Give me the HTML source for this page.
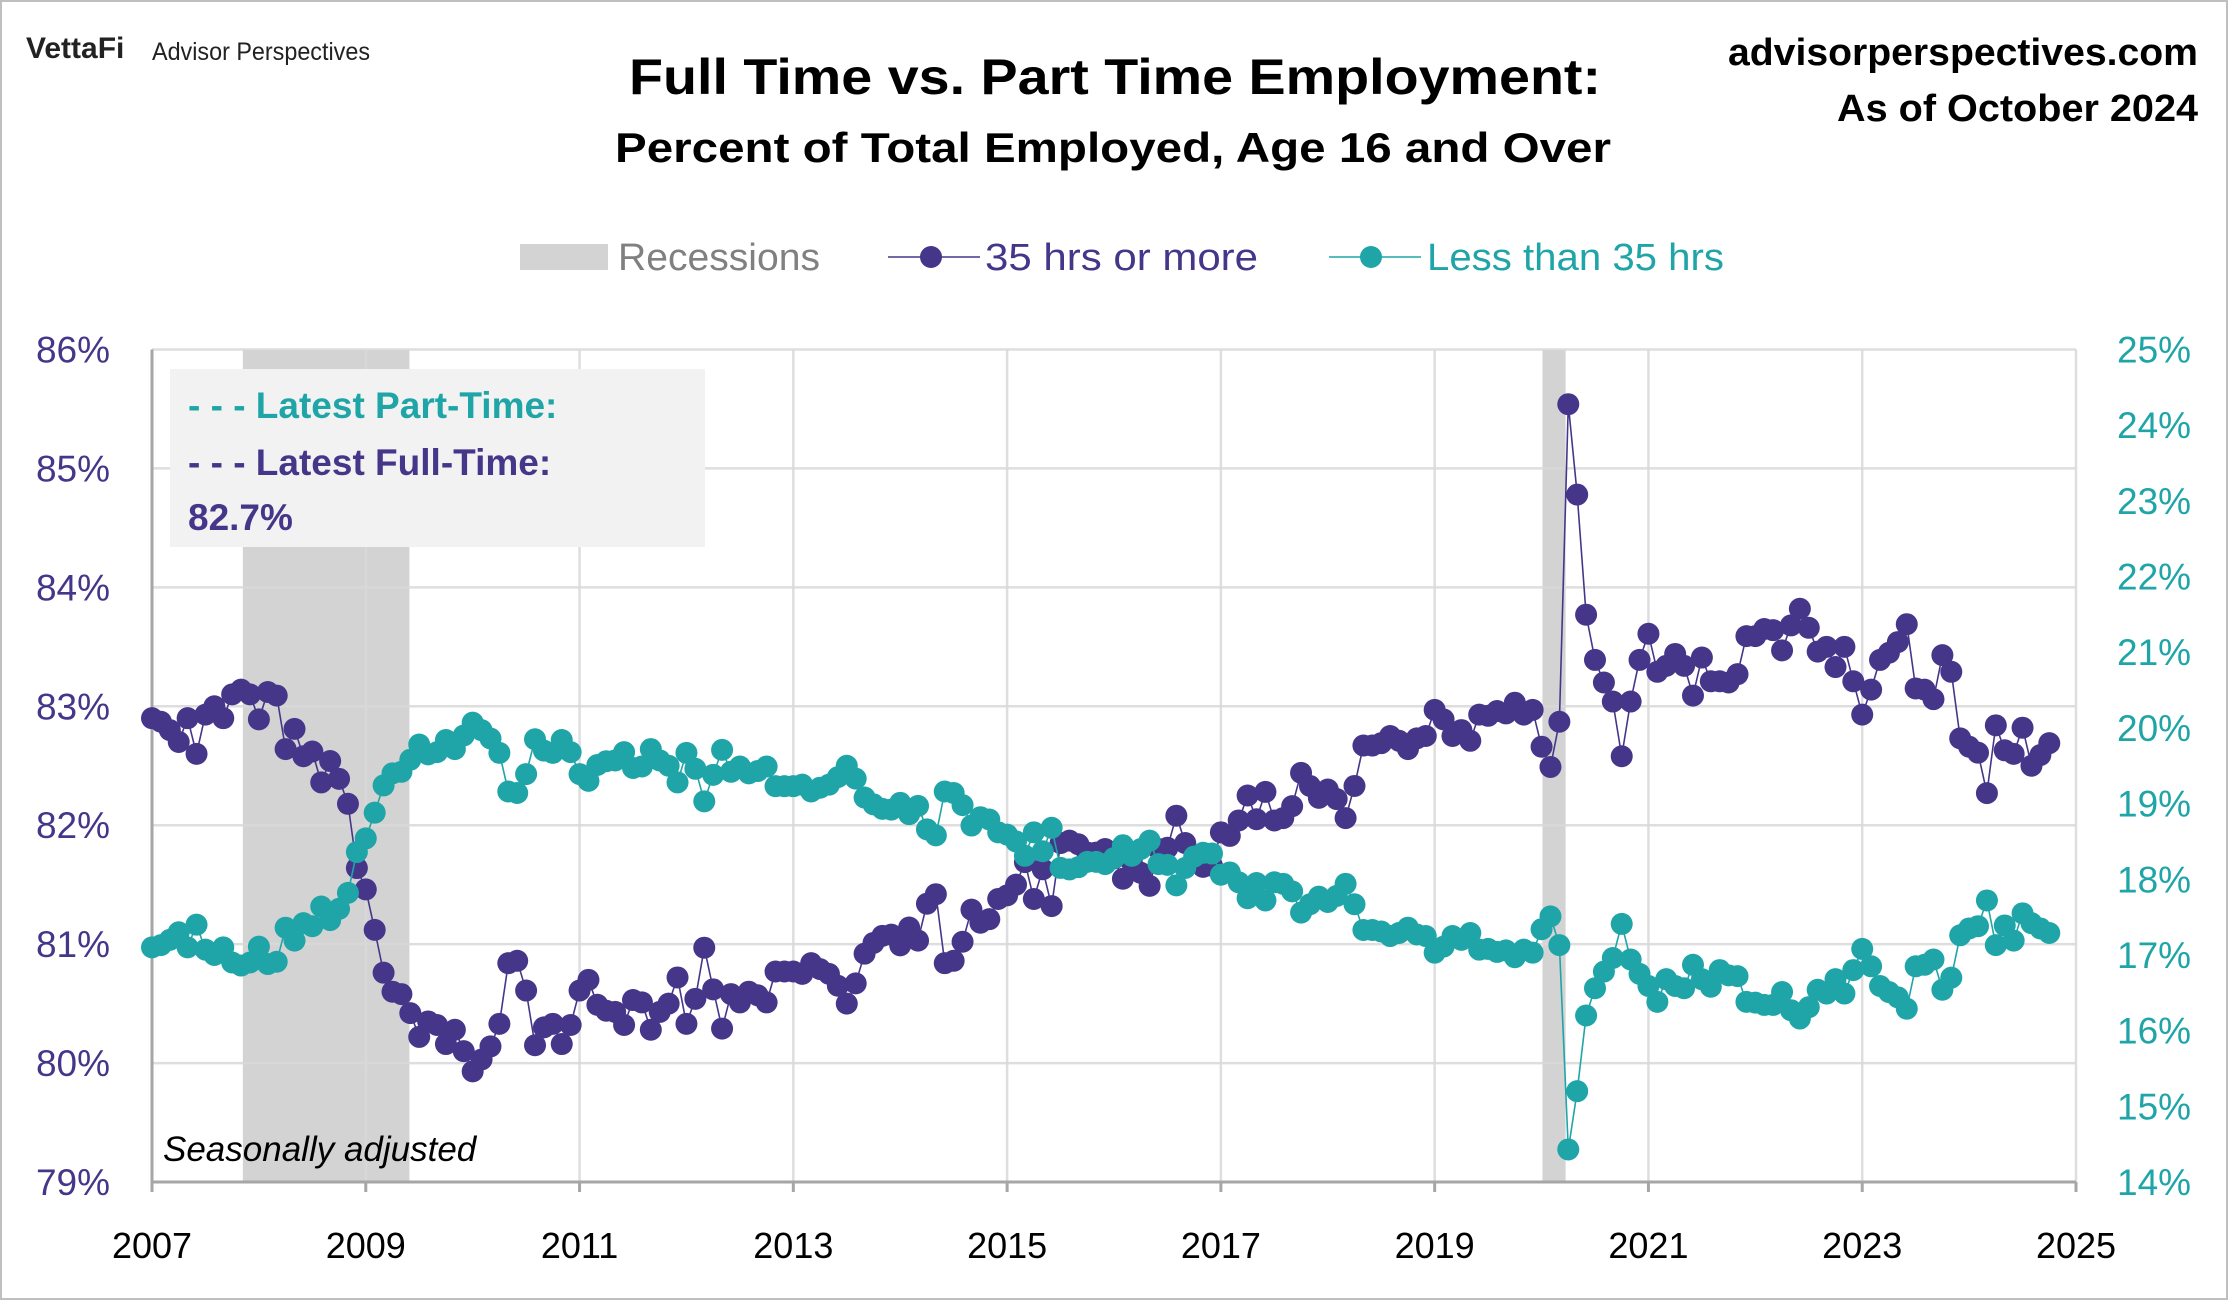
<!DOCTYPE html>
<html><head><meta charset="utf-8"><style>
html,body{margin:0;padding:0;background:#fff}
svg{display:block;font-family:"Liberation Sans",sans-serif}
</style></head><body>
<svg id="chart" width="2228" height="1300" viewBox="0 0 2228 1300" xmlns="http://www.w3.org/2000/svg">
<rect x="1" y="1" width="2226" height="1298" fill="#fff" stroke="#bfbfbf" stroke-width="2"/>
<text x="26" y="58" font-size="30" font-weight="bold" fill="#222">VettaFi</text>
<text x="152" y="60" font-size="25" fill="#222" textLength="218" lengthAdjust="spacingAndGlyphs">Advisor Perspectives</text>
<text x="1115" y="94" font-size="50" font-weight="bold" text-anchor="middle" fill="#000" textLength="972" lengthAdjust="spacingAndGlyphs">Full Time vs. Part Time Employment:</text>
<text x="1113" y="162" font-size="42" font-weight="bold" text-anchor="middle" fill="#000" textLength="996" lengthAdjust="spacingAndGlyphs">Percent of Total Employed, Age 16 and Over</text>
<text x="2198" y="65" font-size="38" font-weight="bold" text-anchor="end" fill="#000" textLength="470" lengthAdjust="spacingAndGlyphs">advisorperspectives.com</text>
<text x="2198" y="121" font-size="38" font-weight="bold" text-anchor="end" fill="#000" textLength="361" lengthAdjust="spacingAndGlyphs">As of October 2024</text>
<g>
 <g><rect x="520" y="244" width="88" height="26" fill="#d3d3d3"/><text x="618" y="270" font-size="38" fill="#808080" textLength="202" lengthAdjust="spacingAndGlyphs">Recessions</text></g>
 <g><line x1="888" y1="257" x2="980" y2="257" stroke="#46368a" stroke-width="1.5"/><circle cx="931" cy="257" r="11" fill="#46368a"/><text x="985" y="270" font-size="38" fill="#46368a" textLength="273" lengthAdjust="spacingAndGlyphs">35 hrs or more</text></g>
 <g><line x1="1329" y1="257" x2="1421" y2="257" stroke="#1fa5a8" stroke-width="1.5"/><circle cx="1371" cy="257" r="11" fill="#1fa5a8"/><text x="1427" y="270" font-size="38" fill="#1fa5a8" textLength="297" lengthAdjust="spacingAndGlyphs">Less than 35 hrs</text></g>
</g>
<g id="recessions"></g>
<g id="grid"></g>
<g id="axes"></g>
<g>
 <rect x="170" y="369" width="535" height="178" fill="#f2f2f2"/>
 <text x="188" y="418" font-size="37" font-weight="bold" fill="#1fa5a8">- - - Latest Part-Time:</text>
 <text x="188" y="475" font-size="37" font-weight="bold" fill="#46368a">- - - Latest Full-Time:</text>
 <text x="188" y="530" font-size="37" font-weight="bold" fill="#46368a">82.7%</text>
</g>
<text x="163" y="1161" font-size="35" font-style="italic" fill="#000">Seasonally adjusted</text>
<g id="series"></g>
</svg>
<script>
const fullTime = [
82.9,82.87,82.8,82.7,82.9,82.6,82.93,83.0,82.9,83.1,83.14,83.1,
82.89,83.12,83.09,82.64,82.81,82.58,82.62,82.36,82.54,82.39,82.18,81.64,
81.46,81.12,80.76,80.6,80.58,80.42,80.22,80.35,80.32,80.16,80.28,80.1,
79.93,80.03,80.14,80.33,80.84,80.86,80.61,80.15,80.3,80.33,80.16,80.32,
80.61,80.7,80.49,80.44,80.43,80.32,80.53,80.51,80.28,80.43,80.5,80.72,
80.33,80.54,80.97,80.62,80.29,80.58,80.51,80.6,80.57,80.51,80.77,80.77,
80.77,80.75,80.84,80.79,80.75,80.65,80.5,80.67,80.92,81.01,81.07,81.08,
80.99,81.14,81.03,81.34,81.42,80.84,80.86,81.02,81.29,81.18,81.21,81.38,
81.41,81.5,81.69,81.38,81.63,81.32,81.85,81.87,81.84,81.77,81.77,81.8,
81.72,81.55,81.69,81.6,81.49,81.8,81.81,82.08,81.85,81.7,81.65,81.66,
81.94,81.91,82.04,82.25,82.05,82.28,82.04,82.06,82.16,82.44,82.33,82.23,
82.3,82.22,82.06,82.33,82.67,82.67,82.69,82.75,82.71,82.64,82.73,82.75,
82.97,82.89,82.75,82.8,82.71,82.93,82.92,82.96,82.94,83.03,82.93,82.97,
82.66,82.49,82.87,85.54,84.78,83.77,83.39,83.2,83.04,82.58,83.04,83.39,
83.61,83.29,83.34,83.44,83.34,83.09,83.41,83.21,83.21,83.2,83.27,83.59,
83.59,83.65,83.64,83.47,83.68,83.82,83.66,83.46,83.5,83.33,83.5,83.21,
82.93,83.14,83.39,83.45,83.54,83.69,83.15,83.14,83.06,83.43,83.29,82.73,
82.66,82.61,82.27,82.84,82.63,82.6,82.82,82.5,82.59,82.69];
const partTime = [
17.1,17.13,17.2,17.3,17.1,17.4,17.07,17.0,17.1,16.9,16.86,16.9,
17.11,16.88,16.91,17.36,17.19,17.42,17.38,17.64,17.46,17.61,17.82,18.36,
18.54,18.88,19.24,19.4,19.42,19.58,19.78,19.65,19.68,19.84,19.72,19.9,
20.07,19.97,19.86,19.67,19.16,19.14,19.39,19.85,19.7,19.67,19.84,19.68,
19.39,19.3,19.51,19.56,19.57,19.68,19.47,19.49,19.72,19.57,19.5,19.28,
19.67,19.46,19.03,19.38,19.71,19.42,19.49,19.4,19.43,19.49,19.23,19.23,
19.23,19.25,19.16,19.21,19.25,19.35,19.5,19.33,19.08,18.99,18.93,18.92,
19.01,18.86,18.97,18.66,18.58,19.16,19.14,18.98,18.71,18.82,18.79,18.62,
18.59,18.5,18.31,18.62,18.37,18.68,18.15,18.13,18.16,18.23,18.23,18.2,
18.28,18.45,18.31,18.4,18.51,18.2,18.19,17.92,18.15,18.3,18.35,18.34,
18.06,18.09,17.96,17.75,17.95,17.72,17.96,17.94,17.84,17.56,17.67,17.77,
17.7,17.78,17.94,17.67,17.33,17.33,17.31,17.25,17.29,17.36,17.27,17.25,
17.03,17.11,17.25,17.2,17.29,17.07,17.08,17.04,17.06,16.97,17.07,17.03,
17.34,17.51,17.13,14.43,15.2,16.2,16.56,16.78,16.96,17.41,16.94,16.75,
16.59,16.38,16.68,16.59,16.56,16.87,16.68,16.58,16.8,16.73,16.72,16.38,
16.37,16.34,16.34,16.51,16.27,16.16,16.31,16.54,16.49,16.68,16.49,16.8,
17.08,16.85,16.59,16.51,16.44,16.29,16.85,16.87,16.94,16.54,16.7,17.26,
17.35,17.38,17.72,17.13,17.39,17.19,17.55,17.42,17.35,17.29];
const yearTicks = [2007,2009,2011,2013,2015,2017,2019,2021,2023,2025];
const leftTicks = [79,80,81,82,83,84,85,86];
const rightTicks = [14,15,16,17,18,19,20,21,22,23,24,25];
const recessionStarts = [10.2, 156.1];
const recessionEnds = [28.9, 158.7];

const NS = "http://www.w3.org/2000/svg";
const L = 152, R = 2076, T = 349.5, B = 1182;
const startYear = 2007, totalMonths = 216;
const xScale = m => L + m * (R - L) / totalMonths;
const xYear = y => xScale((y - startYear) * 12);
const yLeft = v => B - (v - 79) * (B - T) / 7;
const yRight = v => B - (v - 14) * (B - T) / 11;
function mk(tag, attrs, parent) {
  const e = document.createElementNS(NS, tag);
  for (const k in attrs) e.setAttribute(k, attrs[k]);
  parent.appendChild(e);
  return e;
}
const rec = document.getElementById('recessions');
recessionStarts.forEach((s, i) => {
  const r = mk('rect', {x: xScale(s), y: T, width: xScale(recessionEnds[i]) - xScale(s), height: B - T, fill: '#d3d3d3'}, rec);
  
  
});
const grid = document.getElementById('grid');
leftTicks.forEach(v => {
  const l = mk('line', {x1: L, x2: R, y1: yLeft(v), y2: yLeft(v), stroke: '#d9d9d9', 'stroke-width': 2.5, opacity: 0.85}, grid);
  
  
});
yearTicks.forEach(y => {
  if (y === startYear) return;
  const l = mk('line', {x1: xYear(y), x2: xYear(y), y1: T, y2: B, stroke: '#d9d9d9', 'stroke-width': 2.5, opacity: 0.85}, grid);
  
  
});
const axes = document.getElementById('axes');
const la = mk('line', {x1: L, x2: L, y1: T, y2: B, stroke: '#a6a6a6', 'stroke-width': 3}, axes);


const ba = mk('line', {x1: L, x2: R, y1: B, y2: B, stroke: '#a6a6a6', 'stroke-width': 3}, axes);


yearTicks.forEach(y => {
  const tk = mk('line', {x1: xYear(y), x2: xYear(y), y1: B, y2: B + 10, stroke: '#a6a6a6', 'stroke-width': 3}, axes);
  
  
  const t = mk('text', {x: xYear(y), y: 1258, 'font-size': 36, 'text-anchor': 'middle', fill: '#000'}, axes);
  t.textContent = String(y);
  
  
});
leftTicks.forEach(v => {
  const t = mk('text', {x: 110, y: yLeft(v) + 13, 'font-size': 37, 'text-anchor': 'end', fill: '#46368a'}, axes);
  t.textContent = v + '%';
  
  
});
rightTicks.forEach(v => {
  const t = mk('text', {x: 2117, y: yRight(v) + 13, 'font-size': 37, 'text-anchor': 'start', fill: '#1fa5a8'}, axes);
  t.textContent = v + '%';
  
  
});
const series = document.getElementById('series');
function drawSeries(vals, yf, color, name) {
  const g = mk('g', {}, series);
  
  
  const pts = vals.map((v, i) => xScale(i).toFixed(1) + ',' + yf(v).toFixed(1)).join(' ');
  const pl = mk('polyline', {points: pts, fill: 'none', stroke: color, 'stroke-width': 1.6}, g);
  
  
  vals.forEach((v, i) => {
    const c = mk('circle', {cx: xScale(i), cy: yf(v), r: 11, fill: color}, g);
    
    
  });
}
drawSeries(fullTime, yLeft, '#46368a', 'full-time');
drawSeries(partTime, yRight, '#1fa5a8', 'part-time');
</script>
</body></html>
